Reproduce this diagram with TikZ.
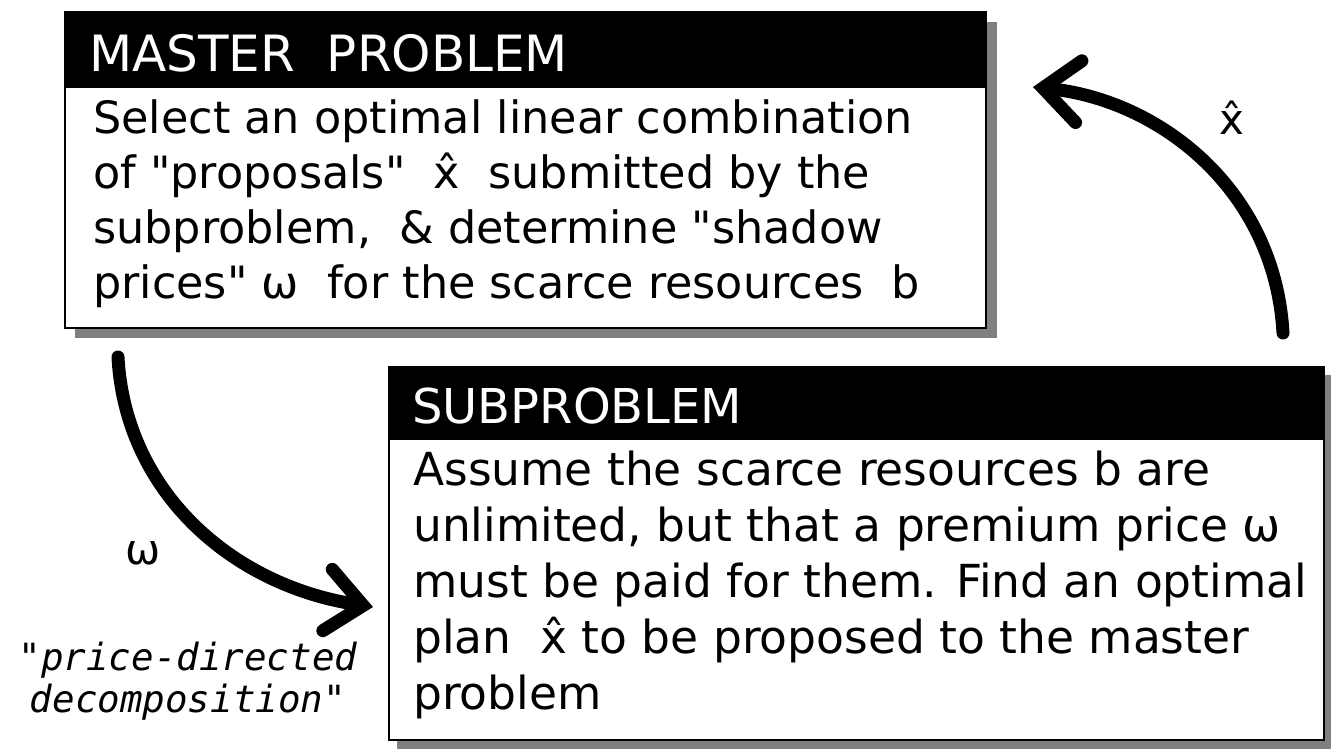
\documentclass[tikz,border=0pt]{standalone}
\usepackage{fontspec}
\setmainfont{DejaVu Sans}[Ligatures=TeXOff]
\newfontfamily\monolabel{DejaVu Sans Mono}
\newcommand\dq{\char"22\relax}
\usetikzlibrary{arrows.meta}
\tikzset{
  frame/.style={draw=black,line width=1.6pt,fill=white,minimum width=#1,inner sep=0pt,anchor=north west},
  shadowfill/.style={fill=black!50},
  headfill/.style={fill=black},
  titletext/.style={text=white,anchor=base west,inner sep=0pt,font=\fontsize{50}{60}\selectfont},
  bodytext/.style={anchor=base west,inner sep=0pt,align=left,font=\fontsize{44.5}{55}\selectfont},
  flowarrow/.style={line width=13pt,line cap=round,-{Straight Barb[length=36pt,width=62pt,line cap=round]}},
  arrowlabel/.style={inner sep=0pt,font=\fontsize{42}{50}\selectfont},
}
\begin{document}
\begin{tikzpicture}[x=1pt,y=-1pt]
\useasboundingbox (0,0) rectangle (1331,749);
% master problem box
\fill[shadowfill] (75,22) rectangle (997,338);
\node[frame=921pt,minimum height=316pt] (master) at (64,11) {};
\fill[headfill] (64,11) rectangle (985,88);
\node[titletext] (mastertitle) at (89,72) {MASTER\ \ PROBLEM};
\node[bodytext] (masterbody) at (93,298) {Select an optimal linear combination\\
of \dq proposals\dq\ \ x̂\ \ submitted by the\\
subproblem,\ \ \& determine \dq shadow\\
prices\dq\ ω\ \ for the scarce resources\ \ b};
% subproblem box
\fill[shadowfill] (397,375) rectangle (1331,749);
\node[frame=935pt,minimum height=373pt] (sub) at (388,366) {};
\fill[headfill] (388,366) rectangle (1323,440);
\node[titletext,font=\fontsize{48}{58}\selectfont] (subtitle) at (412,423) {SUBPROBLEM};
\node[bodytext,font=\fontsize{45.5}{56}\selectfont] (subbody) at (413,709) {Assume the scarce resources b are\\
unlimited, but that a premium price ω\\
must be paid for them. Find an optimal\\
plan\ \ x̂ to be proposed to the master\\
problem};
% arrows
\coordinate (wstart) at (118,357);
\coordinate (wtip) at (373,607);
\draw[flowarrow] (wstart) .. controls (125,490) and (230,585) .. (wtip);
\coordinate (xstart) at (1283,333);
\coordinate (xtip) at (1033,87);
\draw[flowarrow] (xstart) .. controls (1275,190) and (1160,100) .. (xtip);
\node[arrowlabel] (xlabel) at (1232,118) {x̂};
\node[arrowlabel] (wlabel) at (143,553) {ω};
\node[align=center,inner sep=0pt,font=\monolabel\itshape\fontsize{37.5}{42}\selectfont,anchor=base] (pdd) at (188,712) {\dq price-directed\\decomposition\dq};
\end{tikzpicture}
\end{document}
